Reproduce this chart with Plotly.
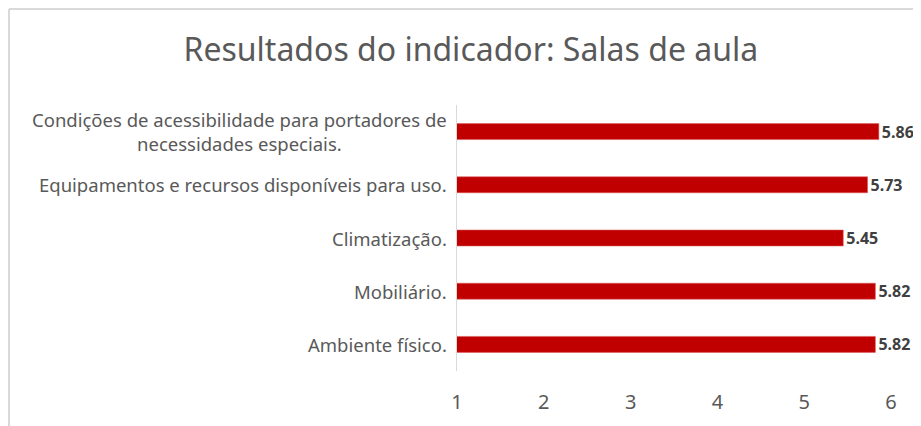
import plotly.graph_objects as go

categories = [
    "Condições de acessibilidade para portadores de<br>necessidades especiais.",
    "Equipamentos e recursos disponíveis para uso.",
    "Climatização.",
    "Mobiliário.",
    "Ambiente físico.",
]
values = [5.86, 5.73, 5.45, 5.82, 5.82]
tick_vals = [1, 2, 3, 4, 5, 6]
title_text = "Resultados do indicador: Salas de aula"

FONT = "Noto Sans"
GREY = "#595959"

W, H = 913, 418
ML, MR, MT, MB = 449, 30, 97, 55
PW, PH = W - ML - MR, H - MT - MB

fig = go.Figure()
fig.add_trace(go.Bar(
    x=values,
    y=categories,
    orientation="h",
    width=0.3,
    marker=dict(color="#C00000", line=dict(color="rgba(220,90,90,0.55)", width=1)),
    text=[f"{v:.2f}" for v in values],
    textposition="outside",
    constraintext="none",
    textfont=dict(family=FONT, size=16, color="#404040", weight="bold"),
    cliponaxis=False,
    hoverinfo="skip",
))

for c in categories:
    fig.add_annotation(
        x=0, xref="paper", xanchor="right", xshift=-8,
        y=c, yref="y", yanchor="middle",
        text=c, showarrow=False, align="center",
        font=dict(family=FONT, size=18.5, color=GREY),
    )

fig.update_layout(
    width=W, height=H,
    margin=dict(l=ML, r=MR, t=MT, b=MB),
    paper_bgcolor="white", plot_bgcolor="white",
    showlegend=False,
    title=dict(text=title_text, x=0.507, xanchor="center", y=0.9, yanchor="middle",
               font=dict(family=FONT, size=32, color=GREY)),
    xaxis=dict(range=[1, 6], tickvals=tick_vals, showgrid=False, zeroline=False,
               showline=False, ticks="", ticklabelstandoff=17,
               tickfont=dict(family=FONT, size=20, color=GREY),
               fixedrange=True),
    yaxis=dict(categoryorder="array", categoryarray=categories, autorange="reversed",
               showticklabels=False, showgrid=False, zeroline=False,
               showline=True, linecolor="#d9d9d9", linewidth=1, ticks=""),
    bargap=0.7,
)

# outer chart border (left and top visible; page has an 8px body margin)
bx = (1 - ML) / PW
by = 1 + (MT - 1) / PH
fig.add_shape(type="line", xref="paper", yref="paper",
              x0=bx, x1=bx, y0=by, y1=-1,
              line=dict(color="#d9d9d9", width=2))
fig.add_shape(type="line", xref="paper", yref="paper",
              x0=bx, x1=1.2, y0=by, y1=by,
              line=dict(color="#d9d9d9", width=2))

fig.write_html("out.html")
